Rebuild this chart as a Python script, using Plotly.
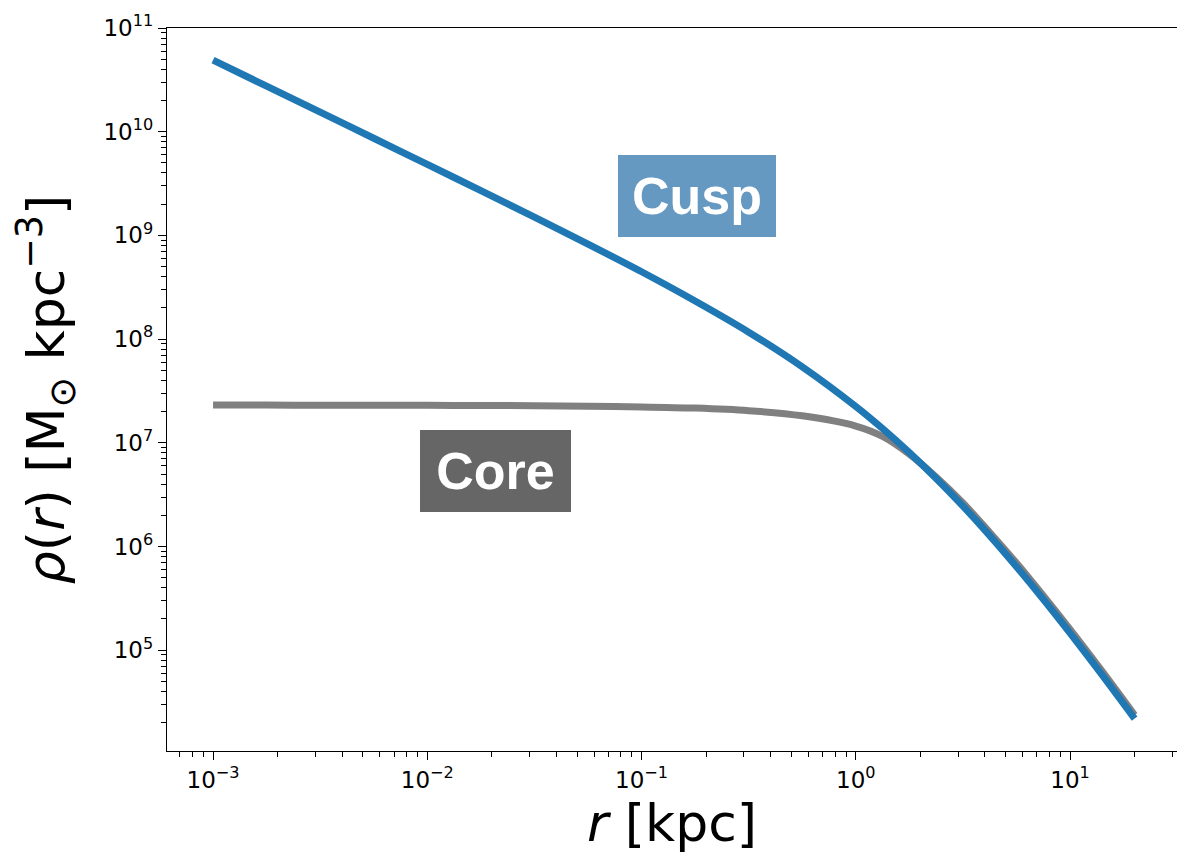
import plotly.graph_objects as go

# radius [kpc]
r_kpc = [1e-3, 1.778e-3, 3.162e-3, 5.623e-3, 1e-2, 1.778e-2, 3.162e-2, 5.623e-2,
         0.1, 0.1778, 0.3162, 0.5623, 1.0, 1.334, 1.778, 2.371, 3.162, 4.217,
         5.623, 7.499, 10.0, 14.13, 20.0]
# density [Msun kpc^-3]
rho_cusp = [4.89e10, 2.75e10, 1.542e10, 8.65e9, 4.84e9, 2.70e9, 1.50e9, 8.24e8,
            4.46e8, 2.33e8, 1.167e8, 5.40e7, 2.24e7, 1.368e7, 8.03e6, 4.53e6,
            2.45e6, 1.274e6, 6.38e5, 3.10e5, 1.462e5, 5.75e4, 2.19e4]
rho_core = [2.31e7, 2.31e7, 2.30e7, 2.30e7, 2.30e7, 2.29e7, 2.28e7, 2.25e7,
            2.22e7, 2.16e7, 2.04e7, 1.82e7, 1.45e7, 1.15e7, 7.76e6, 4.68e6,
            2.63e6, 1.365e6, 6.92e5, 3.35e5, 1.585e5, 6.24e4, 2.37e4]

x_major = [1e-3, 1e-2, 1e-1, 1e0, 1e1]
x_major_text = ["10<sup>−3</sup>", "10<sup>−2</sup>", "10<sup>−1</sup>", "10<sup>0</sup>", "10<sup>1</sup>"]
y_major = [1e5, 1e6, 1e7, 1e8, 1e9, 1e10, 1e11]
y_major_text = ["10<sup>5</sup>", "10<sup>6</sup>", "10<sup>7</sup>", "10<sup>8</sup>",
                "10<sup>9</sup>", "10<sup>10</sup>", "10<sup>11</sup>"]

x_minor = [m * 10.0 ** e for e in range(-4, 2) for m in range(2, 10)]
y_minor = [m * 10.0 ** e for e in range(4, 11) for m in range(2, 10)]

FONT = "DejaVu Sans"

fig = go.Figure()
fig.add_trace(go.Scatter(x=r_kpc, y=rho_core, mode="lines", name="Core",
                         line=dict(color="#808080", width=7, shape="spline", smoothing=0.8)))
fig.add_trace(go.Scatter(x=r_kpc, y=rho_cusp, mode="lines", name="Cusp",
                         line=dict(color="#1f77b4", width=7, shape="spline", smoothing=0.8)))

fig.update_layout(
    width=1177, height=859,
    margin=dict(l=167, r=0, t=28, b=108),
    paper_bgcolor="white", plot_bgcolor="white",
    showlegend=False,
    font=dict(family=FONT, color="black"),
)

fig.update_xaxes(
    type="log", range=[-3.215, 1.499],
    showgrid=False, zeroline=False,
    showline=True, linecolor="black", linewidth=1.4, mirror=True,
    ticks="outside", ticklen=8, tickwidth=1.2, tickcolor="black",
    tickvals=x_major, ticktext=x_major_text,
    tickfont=dict(family=FONT, size=23, color="black"),
    minor=dict(tickvals=x_minor, ticks="outside", ticklen=4.5, tickwidth=1, tickcolor="black", showgrid=False),
    title=dict(text="<i>r</i> [kpc]", font=dict(family=FONT, size=52, color="black"), standoff=10),
    automargin=False,
)
fig.update_yaxes(
    type="log", range=[4.028, 11.0],
    showgrid=False, zeroline=False,
    showline=True, linecolor="black", linewidth=1.4, mirror=False,
    ticks="outside", ticklen=8, tickwidth=1.2, tickcolor="black",
    tickvals=y_major, ticktext=y_major_text,
    tickfont=dict(family=FONT, size=23, color="black"),
    minor=dict(tickvals=y_minor, ticks="outside", ticklen=4.5, tickwidth=1, tickcolor="black", showgrid=False),
    title=dict(text="<i>ρ</i>(<i>r</i>) [M<sub>⊙</sub> kpc<sup>−3</sup>]",
               font=dict(family=FONT, size=52, color="black"), standoff=22),
    automargin=False,
)

fig.add_annotation(xref="paper", yref="paper", x=0.5246, y=0.7675,
                   text="<b>Cusp</b>", showarrow=False,
                   font=dict(family="Liberation Sans", size=52, color="white"),
                   bgcolor="#6699c2", width=158, height=82, borderpad=0, borderwidth=0,
                   align="center", valign="middle", xanchor="center", yanchor="middle")
fig.add_annotation(xref="paper", yref="paper", x=0.3257, y=0.3877,
                   text="<b>Core</b>", showarrow=False,
                   font=dict(family="Liberation Sans", size=52, color="white"),
                   bgcolor="#666666", width=151, height=82, borderpad=0, borderwidth=0,
                   align="center", valign="middle", xanchor="center", yanchor="middle")

fig.write_html("out.html")
